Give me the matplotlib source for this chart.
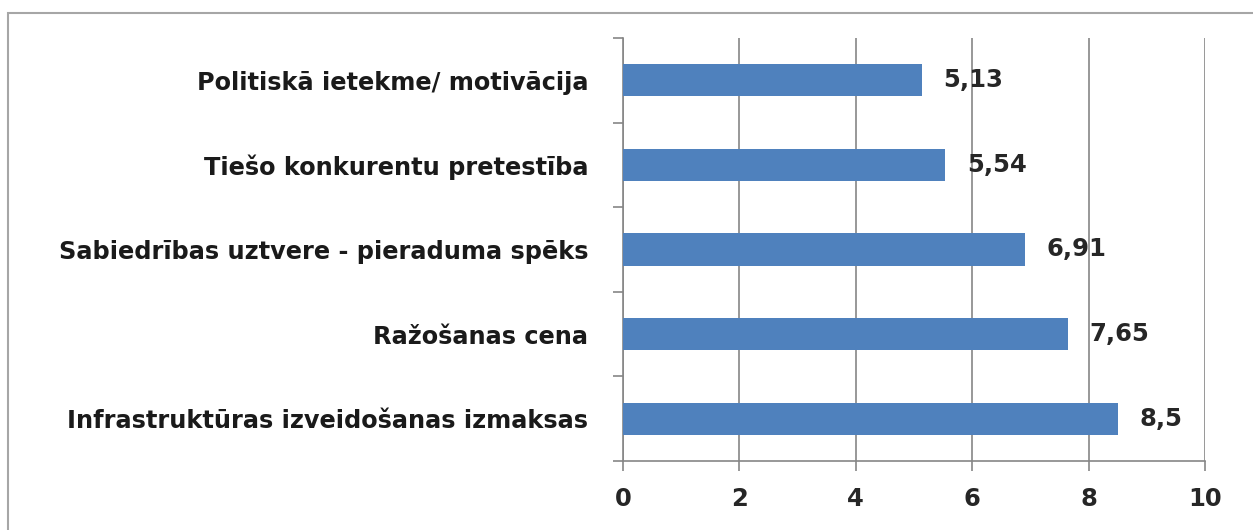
import matplotlib.pyplot as plt
import numpy as np
from matplotlib.patches import Rectangle

plt.rcParams['font.family'] = ['DejaVu Sans']

# bottom to top
categories = ['Infrastruktūras izveidošanas izmaksas',
              'Ražošanas cena',
              'Sabiedrības uztvere - pieraduma spēks',
              'Tiešo konkurentu pretestība',
              'Politiskā ietekme/ motivācija']
values = [8.5, 7.65, 6.91, 5.54, 5.13]
value_labels = ['8,5', '7,65', '6,91', '5,54', '5,13']
xticks = [0, 2, 4, 6, 8, 10]

fig = plt.figure(figsize=(12.53, 5.30), dpi=100)
# outer chart frame
fig.patches.append(Rectangle((8 / 1253, -0.01), 1.2, 1 - 13 / 530 + 0.01,
                             transform=fig.transFigure, fill=False,
                             edgecolor='#a6a6a6', linewidth=1.5))

ax = fig.add_axes([623 / 1253, 1 - 461 / 530, (1205 - 623) / 1253, (461 - 38) / 530])
y = np.arange(len(categories))
ax.barh(y, values, height=0.38, color='#4f81bd', zorder=3)
for yi, v, lab in zip(y, values, value_labels):
    ax.text(v + 0.37, yi, lab, va='center', ha='left', fontsize=17.5,
            fontweight='bold', color='#262626', zorder=4)

ax.set_xlim(0, 10)
ax.set_ylim(-0.5, len(categories) - 0.5)
ax.set_xticks(xticks)
ax.set_xticklabels([str(t) for t in xticks], fontsize=17.5, fontweight='bold',
                   color='#262626')
ax.set_yticks(y)
ax.set_yticklabels(categories, fontsize=17.3, fontweight='bold', color='#1a1a1a')
ax.set_yticks(np.arange(-0.5, len(categories)), minor=True)
ax.tick_params(axis='y', which='major', length=0, pad=25)
ax.tick_params(axis='y', which='minor', length=7, color='#868686', width=1.2)
ax.tick_params(axis='x', length=7, color='#868686', width=1.2, pad=12)
ax.grid(axis='x', color='#868686', linewidth=1.2, zorder=0)
for s in ['top', 'right']:
    ax.spines[s].set_visible(False)
for s in ['left', 'bottom']:
    ax.spines[s].set_color('#868686')
    ax.spines[s].set_linewidth(1.2)

fig.savefig('out.png', dpi=100)
